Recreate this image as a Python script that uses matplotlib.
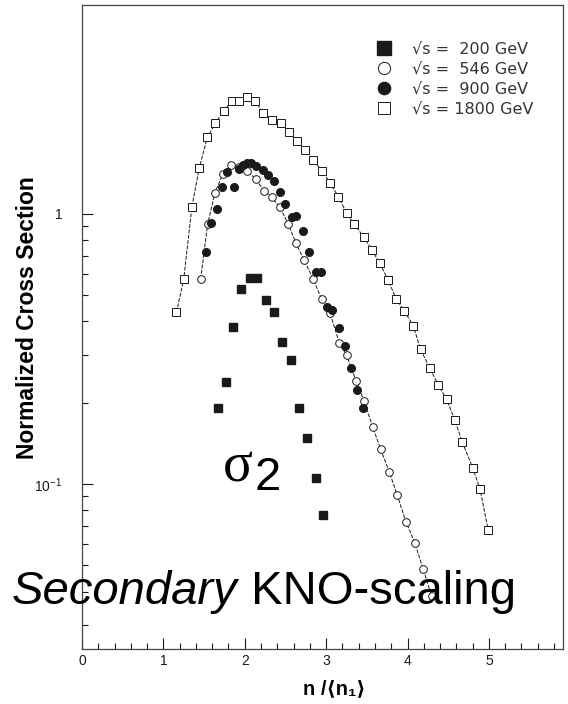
import matplotlib
matplotlib.use("Agg")
import matplotlib.pyplot as plt
from matplotlib.ticker import FixedLocator, FixedFormatter, NullFormatter

plt.rcParams['font.family'] = ['Liberation Sans', 'DejaVu Sans']
plt.rcParams['mathtext.fontset'] = 'custom'
plt.rcParams['mathtext.rm'] = 'Liberation Sans'
plt.rcParams['mathtext.it'] = 'Liberation Sans:italic'
plt.rcParams['mathtext.bf'] = 'Liberation Sans:bold'

# sqrt(s) = 200 GeV (filled squares)
x200 = [1.675, 1.769, 1.859, 1.950, 2.064, 2.154, 2.260, 2.359, 2.461, 2.564, 2.670, 2.768, 2.871, 2.967]
y200 = [0.191, 0.239, 0.383, 0.527, 0.578, 0.578, 0.480, 0.432, 0.336, 0.288, 0.192, 0.148, 0.1055, 0.077]

# sqrt(s) = 546 GeV (open circles)
x546 = [1.458, 1.544, 1.634, 1.728, 1.830, 1.933, 2.031, 2.138, 2.236, 2.330, 2.432, 2.535, 2.629, 2.727,
        2.842, 2.945, 3.047, 3.161, 3.252, 3.366, 3.464, 3.571, 3.670, 3.775, 3.873, 3.980, 4.091, 4.193, 4.296]
y546 = [0.574, 0.918, 1.199, 1.403, 1.519, 1.49, 1.447, 1.344, 1.22, 1.153, 1.059, 0.918, 0.779, 0.676,
        0.573, 0.483, 0.429, 0.334, 0.30, 0.2414, 0.2037, 0.163, 0.1344, 0.111, 0.091, 0.0725, 0.0603, 0.0483, 0.0385]

# sqrt(s) = 900 GeV (filled circles)
x900 = [1.52, 1.585, 1.655, 1.716, 1.785, 1.867, 1.933, 1.982, 2.031, 2.076, 2.138, 2.227, 2.289, 2.359, 2.432,
        2.494, 2.576, 2.629, 2.719, 2.793, 2.875, 2.932, 3.006, 3.068, 3.161, 3.231, 3.301, 3.375, 3.448]
y900 = [0.721, 0.929, 1.041, 1.255, 1.435, 1.255, 1.464, 1.519, 1.54, 1.54, 1.506, 1.455, 1.394, 1.329, 1.203,
        1.089, 0.972, 0.983, 0.865, 0.721, 0.611, 0.611, 0.453, 0.441, 0.378, 0.324, 0.268, 0.222, 0.192]

# sqrt(s) = 1800 GeV (open squares)
x1800 = [1.16, 1.25, 1.35, 1.44, 1.54, 1.64, 1.74, 1.84, 1.93, 2.03, 2.13, 2.23, 2.33, 2.44, 2.54, 2.64, 2.74,
         2.84, 2.95, 3.05, 3.15, 3.25, 3.34, 3.46, 3.56, 3.66, 3.76, 3.86, 3.96, 4.07, 4.16, 4.27, 4.38, 4.48,
         4.58, 4.67, 4.80, 4.89, 4.99]
y1800 = [0.432, 0.574, 1.06, 1.477, 1.923, 2.17, 2.41, 2.61, 2.61, 2.72, 2.61, 2.36, 2.22, 2.17, 2.02, 1.87, 1.726,
         1.585, 1.447, 1.30, 1.159, 1.011, 0.918, 0.824, 0.736, 0.657, 0.570, 0.485, 0.437, 0.386, 0.315, 0.27,
         0.232, 0.206, 0.173, 0.1435, 0.115, 0.096, 0.0677]

labels = ['\u221As =  200 GeV', '\u221As =  546 GeV', '\u221As =  900 GeV', '\u221As = 1800 GeV']

fig = plt.figure(figsize=(5.68, 7.04), dpi=100)
ax = fig.add_axes([82 / 568, 55 / 704, 481 / 568, 644 / 704])

ink = '#1a1a1a'
# thin guide curves through the 546 and 1800 GeV points
ax.plot(x546, y546, color=ink, lw=0.7, ls=(0, (4, 1.5)), zorder=2)
ax.plot(x1800, y1800, color=ink, lw=0.7, ls=(0, (4, 1.5)), zorder=2)

ax.plot(x200, y200, 's', color=ink, ms=6, mec=ink, label=labels[0], zorder=3)
ax.plot(x546, y546, 'o', mfc='white', mec=ink, mew=0.7, ms=5.5, label=labels[1], zorder=3)
ax.plot(x900, y900, 'o', color=ink, ms=5.5, label=labels[2], zorder=4)
ax.plot(x1800, y1800, 's', mfc='white', mec=ink, mew=0.7, ms=5.5, label=labels[3], zorder=3)

ax.set_yscale('log')
ax.set_xlim(0, 5.91)
ax.set_ylim(0.0245, 5.94)

ax.xaxis.set_major_locator(FixedLocator([0, 1, 2, 3, 4, 5]))
ax.xaxis.set_minor_locator(FixedLocator([i * 0.2 for i in range(30)]))
ax.yaxis.set_major_locator(FixedLocator([0.1, 1]))
ax.yaxis.set_major_formatter(FixedFormatter([r'$10^{-1}$', '1']))
ax.yaxis.set_minor_locator(FixedLocator([k * 0.01 for k in range(2, 10)] + [k * 0.1 for k in range(2, 10)]))
ax.yaxis.set_minor_formatter(NullFormatter())
ax.tick_params(which='both', direction='in', colors=ink, labelsize=10, width=0.8)
ax.tick_params(which='major', length=8)
ax.tick_params(which='minor', length=4)
ax.tick_params(axis='y', pad=14)
for s in ax.spines.values():
    s.set_linewidth(0.9)
    s.set_color('#444444')

ax.set_ylabel('Normalized Cross Section', fontsize=16.5, fontweight='bold')
ax.yaxis.set_label_coords(-0.089, 0.514)
ax.set_xlabel('n /\u27e8n\u2081\u27e9', fontsize=14.5, fontweight='bold')
ax.xaxis.set_label_coords(0.524, -0.047)

ax.legend(loc='upper left', bbox_to_anchor=(0.612, 0.943), frameon=False,
          prop={'family': 'DejaVu Sans', 'size': 11.5},
          handlelength=1.0, handletextpad=1.2, labelspacing=0.32, borderpad=0, borderaxespad=0,
          labelcolor='#333333', markerscale=1.6)

fig.text(238 / 568, 1 - 467 / 704, '\u03c3', fontsize=40, family='Liberation Serif',
         ha='center', va='center', color='black')
fig.text(268 / 568, 1 - 478 / 704, '2', fontsize=34, ha='center', va='center', color='black')

t1 = fig.text(12 / 568, 1 - 604 / 704, 'Secondary', fontsize=34, style='italic',
              ha='left', va='baseline', color='black')
ax.annotate(' KNO-scaling', xy=(1, 0), xycoords=t1, fontsize=34, ha='left', va='bottom',
            color='black', annotation_clip=False)

fig.savefig('out.png', dpi=100)
